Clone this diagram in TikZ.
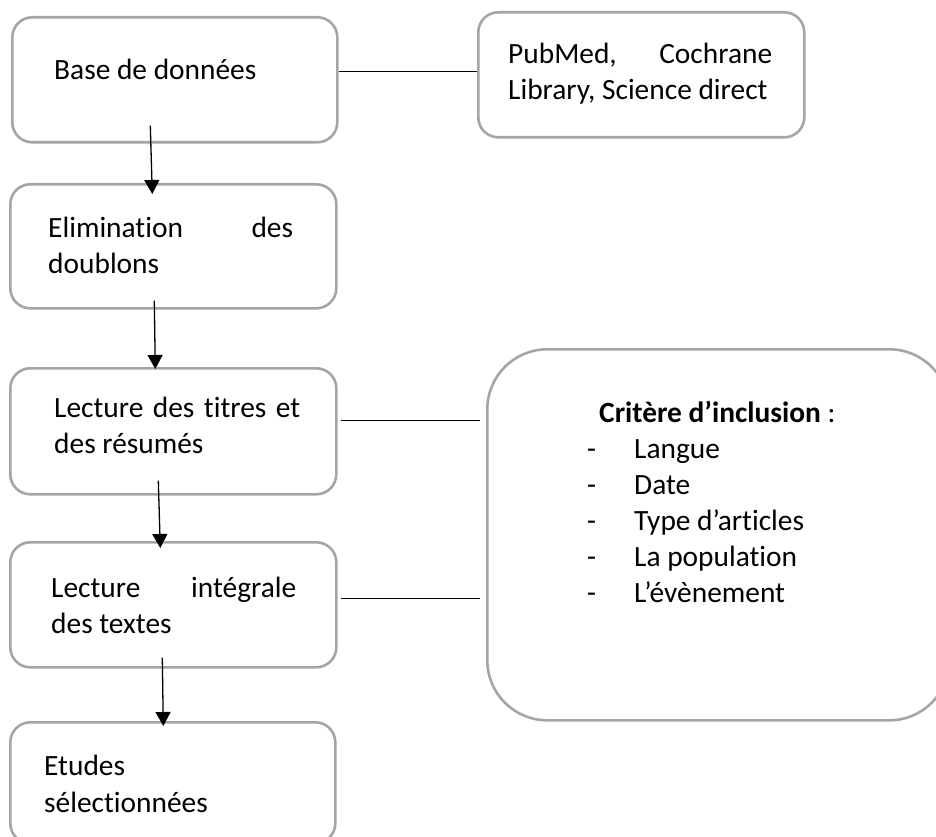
\documentclass[tikz,border=0pt]{standalone}
\usepackage{fontspec}
\setmainfont{Carlito}[Ligatures=NoCommon]
\usetikzlibrary{arrows.meta}
\definecolor{boxgray}{HTML}{A5A5A5}
\tikzset{
  box/.style={draw=boxgray, line width=2.6pt, rounded corners=20pt, anchor=north west, inner sep=0pt},
  bigbox/.style={box, rounded corners=60pt},
  txt/.style={font=\fontsize{29.4}{36}\selectfont, inner sep=0pt, anchor=base west},
  arr/.style={line width=1.3pt, -{Triangle[width=15pt,length=14pt]}},
  ln/.style={line width=1.3pt}
}
\begin{document}
\begin{tikzpicture}[x=1pt,y=-1pt]
\useasboundingbox (0,0) rectangle (936,837);
% boxes
\node[box, minimum width=325pt, minimum height=125pt] (b1) at (11,16) {};
\node[box, minimum width=326pt, minimum height=125pt] (pm) at (477,11) {};
\node[box, minimum width=326pt, minimum height=124pt] (b2) at (9,183) {};
\node[box, minimum width=326pt, minimum height=126pt] (b4) at (9,367) {};
\node[box, minimum width=326pt, minimum height=125pt] (b5) at (9,541) {};
\node[box, minimum width=325pt, minimum height=121pt] (b6) at (9,721) {};
\node[bigbox, minimum width=462pt, minimum height=371pt] (crit) at (486,348) {};
% texts
\node[txt] (t1) at (54,80) {Base de données};
\node[txt] (tpm) at (508,64) {\parbox[t]{264pt}{\makebox[264pt][s]{PubMed, Cochrane}\\Library, Science direct}};
\node[txt] (t2) at (48,237) {\parbox[t]{245pt}{\makebox[245pt][s]{Elimination des}\\doublons}};
\node[txt] (t4) at (54,417) {\parbox[t]{246pt}{\makebox[246pt][s]{Lecture des titres et}\\des résumés}};
\node[txt] (t5) at (51,597) {\parbox[t]{245pt}{\makebox[245pt][s]{Lecture intégrale}\\des textes}};
\node[txt] (t6) at (44,775) {\parbox[t]{260pt}{\baselineskip=37pt Etudes\\sélectionnées}};
\node[txt] (tc) at (599,422) {\textbf{Critère d’inclusion} :};
\foreach \i/\s in {0/Langue,1/Date,2/Type d’articles,3/La population,4/L’évènement}{
  \node[txt] (d\i) at (587,458+36*\i) {-};
  \node[txt] (i\i) at (634,458+36*\i) {\s};
}
% arrows
\draw[arr] ([xshift=-24.5pt,yshift=18pt]b1.south) -- ([xshift=-21pt,yshift=-11pt]b2.north);
\draw[arr] ([xshift=-19pt,yshift=9pt]b2.south) -- ([xshift=-18pt,yshift=-2pt]b4.north);
\draw[arr] ([xshift=-15pt,yshift=15pt]b4.south) -- ([xshift=-13pt,yshift=-7pt]b5.north);
\draw[arr] ([xshift=-11pt,yshift=11pt]b5.south) -- ([xshift=-9.5pt,yshift=-5pt]b6.north);
% side lines
\coordinate (l1) at ([yshift=8.5pt]b1.east);
\draw[ln] (l1) -- (l1 -| pm.west);
\coordinate (l4) at ([xshift=3pt,yshift=11pt]b4.east);
\draw[ln, shorten >=6pt] (l4) -- (l4 -| crit.west);
\coordinate (l5) at ([xshift=3pt,yshift=6.5pt]b5.east);
\draw[ln, shorten >=6pt] (l5) -- (l5 -| crit.west);
\end{tikzpicture}
\end{document}
